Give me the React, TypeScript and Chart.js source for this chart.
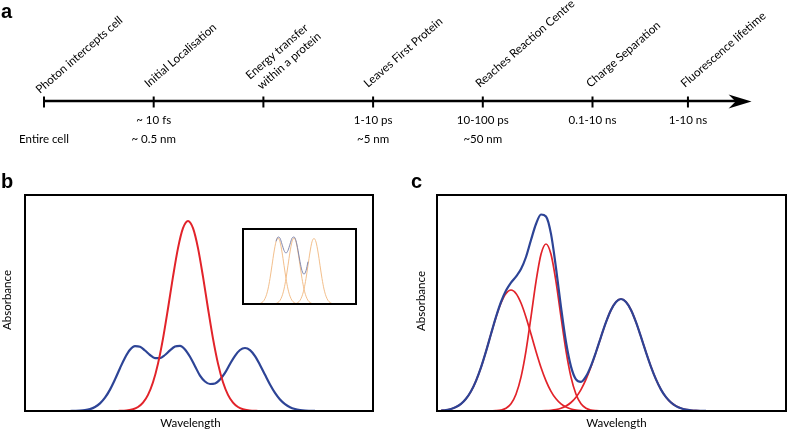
import React, { useEffect, useRef } from "react";
import { Chart, registerables } from "chart.js";

Chart.register(...registerables);

// ---------------- Panel a: timeline ----------------
const eventNames: string[][] = [
  ["Photon intercepts cell"],
  ["Initial Localisation"],
  ["Energy transfer", "within a protein"],
  ["Leaves First Protein"],
  ["Reaches Reaction Centre"],
  ["Charge Separation"],
  ["Fluorescence lifetime"],
];
const eventPositions = [0, 1, 2, 3, 4, 5, 5.87];
const timeScales = ["", "~ 10 fs", "", "1-10 ps", "10-100 ps", "0.1-10 ns", "1-10 ns"];
const lengthScales = ["Entire cell", "~ 0.5 nm", "", "~5 nm", "~50 nm", "", ""];
const axisStart = 0;
const axisEnd = 6.45;

// ---------------- Panel b ----------------
const bRedWavelength = [93, 98, 103, 108, 113, 118, 123, 128, 133, 138, 143, 148, 153, 158, 163, 168, 173, 178, 183, 188, 193, 198, 203, 208, 213, 218, 223, 228, 233];
const bRedAbsorbance = [0.1, 0.3, 0.7, 1.8, 4.0, 8.3, 16.1, 28.7, 47.4, 72.4, 102.5, 134.3, 162.9, 182.8, 190, 182.8, 162.9, 134.3, 102.5, 72.4, 47.4, 28.7, 16.1, 8.3, 4.0, 1.8, 0.7, 0.3, 0.1];
const bBlueWavelength = [45, 50, 55, 60, 65, 70, 75, 80, 85, 90, 95, 100, 105, 110, 115, 120, 125, 130, 135, 140, 145, 150, 155, 160, 165, 170, 175, 180, 185, 190, 195, 200, 205, 210, 215, 220, 225, 230, 235, 240, 245, 250, 255, 260, 265, 270, 275, 280, 285, 290];
const bBlueAbsorbance = [0.0, 0.1, 0.3, 0.8, 1.9, 4.0, 7.6, 13.3, 21.4, 31.6, 42.8, 53.3, 61.2, 64.9, 64.3, 60.5, 56.0, 52.9, 52.9, 56.0, 60.6, 64.4, 65.1, 61.6, 54.3, 44.8, 35.4, 29.5, 27.0, 27.5, 31.5, 38.1, 47.0, 55.2, 61.0, 63.0, 60.9, 54.9, 46.1, 36.2, 26.5, 18.1, 11.5, 6.9, 3.8, 2.0, 1.0, 0.4, 0.2, 0.1];

// ---------------- Panel b inset ----------------
const insetOrange1X = [15, 17, 19, 21, 23, 25, 27, 29, 31, 33, 35, 37, 39, 41, 43, 45, 47, 49, 51, 53, 55];
const insetOrange1Y = [0.2, 0.5, 1.5, 3.6, 7.8, 14.9, 25.5, 38.7, 52.0, 62.2, 66, 62.2, 52.0, 38.7, 25.5, 14.9, 7.8, 3.6, 1.5, 0.5, 0.2];
const insetOrange2X = [31, 33, 35, 37, 39, 41, 43, 45, 47, 49, 51, 53, 55, 57, 59, 61, 63, 65, 67, 69, 71];
const insetOrange2Y = [0.2, 0.5, 1.5, 3.6, 7.8, 14.9, 25.5, 38.7, 52.0, 62.2, 66, 62.2, 52.0, 38.7, 25.5, 14.9, 7.8, 3.6, 1.5, 0.5, 0.2];
const insetOrange3X = [51, 53, 55, 57, 59, 61, 63, 65, 67, 69, 71, 73, 75, 77, 79, 81, 83, 85, 87, 89, 91];
const insetOrange3Y = [0.2, 0.5, 1.5, 3.6, 7.8, 14.9, 25.5, 38.7, 52.0, 62.2, 65.5, 62.0, 52.0, 38.7, 25.5, 14.9, 7.8, 3.6, 1.5, 0.5, 0.2];
const insetSumX = [33, 35, 37, 39, 41, 43, 45, 47, 49, 51, 53, 55, 57, 59, 61, 63, 65];
const insetSumY = [62.7, 67.0, 65.8, 59.8, 53.6, 51.0, 53.6, 59.8, 65.8, 67.0, 63.2, 53.7, 42.3, 33.3, 29.8, 33.3, 42.3];

// ---------------- Panel c ----------------
const cBlueWavelength = [4, 9, 14, 19, 24, 29, 34, 39, 44, 49, 54, 59, 64, 69, 74, 79, 84, 89, 94, 99, 104, 109, 114, 119, 124, 129, 134, 139, 144, 149, 154, 159, 164, 169, 174, 179, 184, 189, 194, 199, 204, 209, 214, 219, 224, 229, 234, 239, 244, 249, 254, 259, 264, 269];
const cBlueAbsorbance = [0.5, 1.0, 2.0, 3.9, 7.1, 12.2, 19.7, 30.2, 43.6, 59.6, 77.0, 94.1, 109.0, 120.4, 128.3, 134.4, 141.9, 154.0, 171.0, 187.0, 196.5, 194.5, 177.1, 143.0, 103.9, 69.0, 44.4, 31.6, 29.2, 34.6, 45.2, 59.0, 74.2, 88.8, 101.0, 109.1, 112, 109.1, 101.0, 88.8, 74.1, 58.7, 44.2, 31.6, 21.4, 13.8, 8.5, 4.9, 2.7, 1.4, 0.7, 0.3, 0.15, 0.06];
const cRed1Wavelength = [4, 9, 14, 19, 24, 29, 34, 39, 44, 49, 54, 59, 64, 69, 74, 79, 84, 89, 94, 99, 104, 109, 114, 119, 124, 129, 134, 139, 144, 149, 154];
const cRed1Absorbance = [0.47, 1.0, 2.0, 3.9, 7.1, 12.2, 19.7, 30.2, 43.6, 59.6, 76.9, 93.8, 108.0, 117.6, 121, 117.6, 108.0, 93.8, 76.9, 59.6, 43.6, 30.2, 19.7, 12.2, 7.1, 3.9, 2.0, 1.0, 0.47, 0.21, 0.09];
const cRed2Wavelength = [54, 59, 64, 69, 74, 79, 84, 89, 94, 99, 104, 109, 114, 119, 124, 129, 134, 139, 144, 149, 154, 159, 164];
const cRed2Absorbance = [0.07, 0.28, 0.95, 2.8, 7.3, 16.8, 33.9, 60.2, 94.1, 129.4, 156.7, 167, 156.7, 129.4, 94.1, 60.2, 33.9, 16.8, 7.3, 2.8, 0.95, 0.28, 0.07];
const cRed3Wavelength = [99, 104, 109, 114, 119, 124, 129, 134, 139, 144, 149, 154, 159, 164, 169, 174, 179, 184, 189, 194, 199, 204, 209, 214, 219, 224, 229, 234, 239, 244, 249, 254, 259, 264, 269];
const cRed3Absorbance = [0.06, 0.15, 0.33, 0.71, 1.4, 2.7, 4.9, 8.5, 13.8, 21.4, 31.6, 44.2, 58.7, 74.1, 88.8, 101.0, 109.1, 112, 109.1, 101.0, 88.8, 74.1, 58.7, 44.2, 31.6, 21.4, 13.8, 8.5, 4.9, 2.7, 1.4, 0.71, 0.33, 0.15, 0.06];

// ---------------- styles ----------------
const SANS = "Lato, 'Open Sans', sans-serif";
const BOLD = "bold 20px 'Liberation Sans', Arial, sans-serif";
const TEXT = "#000";
const BLUE = "#2d4496";
const RED = "#e2232a";
const ORANGE = "#f3bf8c";
const GREYBLUE = "#8288ad";

const pts = (xs: number[], ys: number[]) => xs.map((x, i) => ({ x, y: ys[i] }));

const curve = (data: { x: number; y: number }[], color: string, width: number) => ({
  data,
  borderColor: color,
  borderWidth: width,
  pointRadius: 0,
  fill: false,
  cubicInterpolationMode: "monotone" as const,
});

type TextItem = { text: string; x: number; y: number; font: string; align?: CanvasTextAlign; rotate?: number };

const framePlugin = (id: string, items: TextItem[]) => ({
  id,
  afterDatasetsDraw(chart: any) {
    const { ctx, chartArea } = chart;
    ctx.save();
    ctx.strokeStyle = "#000";
    ctx.lineWidth = 2;
    ctx.strokeRect(chartArea.left, chartArea.top, chartArea.right - chartArea.left, chartArea.bottom - chartArea.top);
    ctx.fillStyle = TEXT;
    ctx.textBaseline = "alphabetic";
    items.forEach((t) => {
      ctx.save();
      ctx.font = t.font;
      ctx.textAlign = t.align || "left";
      ctx.translate(t.x, t.y);
      if (t.rotate) ctx.rotate(t.rotate);
      ctx.fillText(t.text, 0, 0);
      ctx.restore();
    });
    ctx.restore();
  },
});

const baseOptions = (padding: any, xMax: number, yMax: number) => ({
  responsive: false,
  animation: false as const,
  events: [] as any[],
  layout: { padding, autoPadding: false },
  scales: {
    x: { type: "linear" as const, display: false, min: 0, max: xMax },
    y: { type: "linear" as const, display: false, min: 0, max: yMax },
  },
  plugins: { legend: { display: false }, tooltip: { enabled: false } },
});

// label anchors (pixel layout) for the rotated timeline labels
const labelDx = [-4, -5, -2, -5, -3, -2, -3];
const labelBase = [94, 88, 90, 88, 88, 88, 88];
const AXIS_Y = 101;
const TICK_Y = 102;
const LABEL_ANGLE = 41;

const timelinePlugin = {
  id: "timelineDecor",
  afterDatasetsDraw(chart: any) {
    const { ctx } = chart;
    const x = chart.scales.x;
    const y = chart.scales.y;
    const lineY = y.getPixelForValue(AXIS_Y) + 0.5;
    const tip = x.getPixelForValue(axisEnd);
    ctx.save();
    ctx.fillStyle = "#000";
    ctx.beginPath();
    ctx.moveTo(tip, lineY);
    ctx.lineTo(tip - 23, lineY - 7);
    ctx.lineTo(tip - 16, lineY);
    ctx.lineTo(tip - 23, lineY + 7);
    ctx.closePath();
    ctx.fill();

    ctx.fillStyle = TEXT;
    ctx.textBaseline = "alphabetic";
    eventPositions.forEach((p, i) => {
      const px = x.getPixelForValue(p);
      const lines = eventNames[i];
      ctx.save();
      ctx.font = `11.6px ${SANS}`;
      ctx.translate(px + labelDx[i], labelBase[i]);
      ctx.rotate((-LABEL_ANGLE * Math.PI) / 180);
      ctx.textAlign = "left";
      lines.forEach((ln, k) => {
        const fromLast = lines.length - 1 - k;
        ctx.fillText(ln, fromLast ? -2 : 0, -fromLast * 15);
      });
      ctx.restore();
      ctx.font = `11.5px ${SANS}`;
      ctx.textAlign = "center";
      if (timeScales[i]) ctx.fillText(timeScales[i], px, 123.5);
      if (lengthScales[i]) ctx.fillText(lengthScales[i], px, 142.5);
    });
    ctx.font = BOLD;
    ctx.textAlign = "left";
    ctx.fillText("a", 1, 18);
    ctx.restore();
  },
};

function ChartBox({ left, top, width, height, config }: { left: number; top: number; width: number; height: number; config: any }) {
  const ref = useRef<HTMLCanvasElement>(null);
  useEffect(() => {
    const chart = new Chart(ref.current as HTMLCanvasElement, config);
    return () => chart.destroy();
  }, []);
  return (
    <div style={{ position: "absolute", left, top, width, height }}>
      <canvas ref={ref} width={width} height={height} style={{ width, height, display: "block" }} />
    </div>
  );
}

export default function App() {
  const timelineConfig = {
    type: "scatter",
    data: {
      datasets: [
        {
          type: "scatter",
          data: eventPositions.map((p) => ({ x: p, y: TICK_Y })),
          pointStyle: "line",
          rotation: 90,
          pointRadius: 5.5,
          borderWidth: 2,
          borderColor: "#000",
        },
        {
          type: "line",
          data: [
            { x: axisStart, y: AXIS_Y },
            { x: axisEnd - 0.12, y: AXIS_Y },
          ],
          borderColor: "#000",
          borderWidth: 2.5,
          pointRadius: 0,
        },
      ],
    },
    options: {
      responsive: false,
      animation: false,
      events: [],
      layout: { padding: 0, autoPadding: false },
      scales: {
        x: { type: "linear", display: false, min: -0.401, max: 6.773 },
        y: { type: "linear", display: false, min: 0, max: 170, reverse: true },
      },
      plugins: { legend: { display: false }, tooltip: { enabled: false } },
    },
    plugins: [timelinePlugin],
  };

  const bConfig = {
    type: "line",
    data: {
      datasets: [
        curve(pts(bRedWavelength, bRedAbsorbance), RED, 2),
        curve(pts(bBlueWavelength, bBlueAbsorbance), BLUE, 2.2),
      ],
    },
    options: baseOptions({ left: 25, right: 27, top: 25, bottom: 21 }, 348, 216),
    plugins: [
      framePlugin("frameB", [
        { text: "b", x: 1, y: 18, font: BOLD },
        { text: "Absorbance", x: 10.5, y: 130, font: `11.5px ${SANS}`, align: "center", rotate: -Math.PI / 2 },
        { text: "Wavelength", x: 190.5, y: 257, font: `11.5px ${SANS}`, align: "center" },
      ]),
    ],
  };

  const insetConfig = {
    type: "line",
    data: {
      datasets: [
        curve(pts(insetSumX, insetSumY), GREYBLUE, 1),
        curve(pts(insetOrange1X, insetOrange1Y), ORANGE, 1),
        curve(pts(insetOrange2X, insetOrange2Y), ORANGE, 1),
        curve(pts(insetOrange3X, insetOrange3Y), ORANGE, 1),
      ],
    },
    options: baseOptions({ left: 3, right: 3, top: 3, bottom: 3 }, 113, 75),
    plugins: [
      {
        id: "insetBg",
        beforeDraw(chart: any) {
          const { ctx, chartArea } = chart;
          ctx.save();
          ctx.fillStyle = "#fff";
          ctx.fillRect(chartArea.left, chartArea.top, chartArea.right - chartArea.left, chartArea.bottom - chartArea.top);
          ctx.restore();
        },
      },
      framePlugin("frameInset", []),
    ],
  };

  const cConfig = {
    type: "line",
    data: {
      datasets: [
        curve(pts(cBlueWavelength, cBlueAbsorbance), BLUE, 2.2),
        curve(pts(cRed1Wavelength, cRed1Absorbance), RED, 1.7),
        curve(pts(cRed2Wavelength, cRed2Absorbance), RED, 1.7),
        curve(pts(cRed3Wavelength, cRed3Absorbance), RED, 1.7),
      ],
    },
    options: baseOptions({ left: 37, right: 1, top: 25, bottom: 21 }, 349, 216),
    plugins: [
      framePlugin("frameC", [
        { text: "c", x: 11, y: 18, font: BOLD },
        { text: "Absorbance", x: 25, y: 131, font: `11.5px ${SANS}`, align: "center", rotate: -Math.PI / 2 },
        { text: "Wavelength", x: 216.5, y: 257, font: `11.5px ${SANS}`, align: "center" },
      ]),
    ],
  };

  return (
    <div style={{ position: "absolute", left: 0, top: 0, width: 787, height: 432, background: "#fff", overflow: "hidden" }}>
      <ChartBox left={0} top={0} width={787} height={170} config={timelineConfig} />
      <ChartBox left={0} top={170} width={400} height={262} config={bConfig} />
      <ChartBox left={400} top={170} width={387} height={262} config={cConfig} />
      <ChartBox left={240} top={226} width={119} height={81} config={insetConfig} />
    </div>
  );
}
